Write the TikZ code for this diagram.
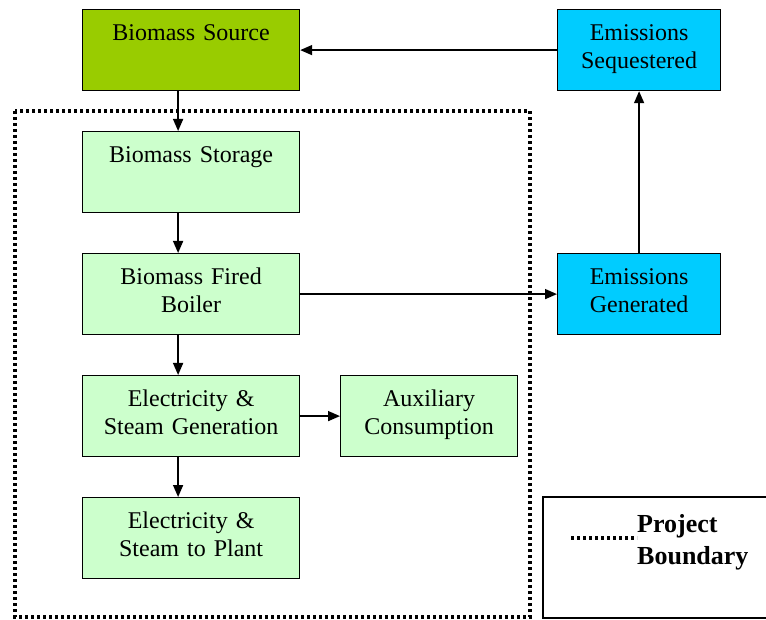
\documentclass[tikz,border=0pt]{standalone}
\usepackage{fontspec}
\setmainfont{Liberation Serif}
\usetikzlibrary{arrows.meta}

\definecolor{sourcegreen}{HTML}{99CC00}
\definecolor{stagegreen}{HTML}{CCFFCC}
\definecolor{emitblue}{HTML}{00CCFF}

\begin{document}
\begin{tikzpicture}[x=1pt, y=-1pt,
    stage/.style={draw, line width=1.2pt, anchor=north west, inner sep=0pt,
        align=center, font=\fontsize{24}{28}\selectfont,
        text height=31pt, text depth=50pt},
    flow/.style={line width=1.6pt, -{Triangle[length=12pt, width=10pt]}},
    boundary/.style={line width=3.2pt, dash pattern=on 3pt off 3pt}]
    \clip (0, 0) rectangle (766, 620);
    \useasboundingbox (0, 0) rectangle (766, 620);

    % project boundary
    \draw[boundary] (15, 111) rectangle (530, 617);

    \node[stage, fill=sourcegreen, text width=217pt] (source) at (82, 9) {Biomass Source};
    \node[stage, fill=emitblue, text width=163pt] (sequestered) at (557, 9) {Emissions\\Sequestered};
    \node[stage, fill=stagegreen, text width=217pt] (storage) at (82, 131) {Biomass Storage};
    \node[stage, fill=stagegreen, text width=217pt] (boiler) at (82, 253) {Biomass Fired\\Boiler};
    \node[stage, fill=emitblue, text width=163pt] (generated) at (557, 253) {Emissions\\Generated};
    \node[stage, fill=stagegreen, text width=217pt] (generation) at (82, 375) {Electricity \&\\Steam Generation};
    \node[stage, fill=stagegreen, text width=177pt] (auxiliary) at (340, 375) {Auxiliary\\Consumption};
    \node[stage, fill=stagegreen, text width=217pt] (plant) at (82, 497) {Electricity \&\\Steam to Plant};

    \draw[flow] (sequestered.west) -- (source.east);
    \draw[flow] ([xshift=-13pt]source.south) -- ([xshift=-13pt]storage.north);
    \draw[flow] ([xshift=-13pt]storage.south) -- ([xshift=-13pt]boiler.north);
    \draw[flow] ([xshift=-13pt]boiler.south) -- ([xshift=-13pt]generation.north);
    \draw[flow] ([xshift=-13pt]generation.south) -- ([xshift=-13pt]plant.north);
    \draw[flow] (generation.east) -- (auxiliary.west);
    \draw[flow] (boiler.east) -- (generated.west);
    \draw[flow] (generated.north) -- (sequestered.south);

    % legend
    \draw[line width=1.2pt] (543, 497) rectangle (790, 618);
    \node[anchor=north west, inner sep=0pt, text width=125pt, align=left,
        font=\fontsize{26}{32}\selectfont\bfseries, text height=18pt] (legend) at (637, 514) {Project\\Boundary};
    \coordinate (key) at (571, 538);
    \draw[boundary] (key) -- (key -| legend.west);
\end{tikzpicture}
\end{document}
